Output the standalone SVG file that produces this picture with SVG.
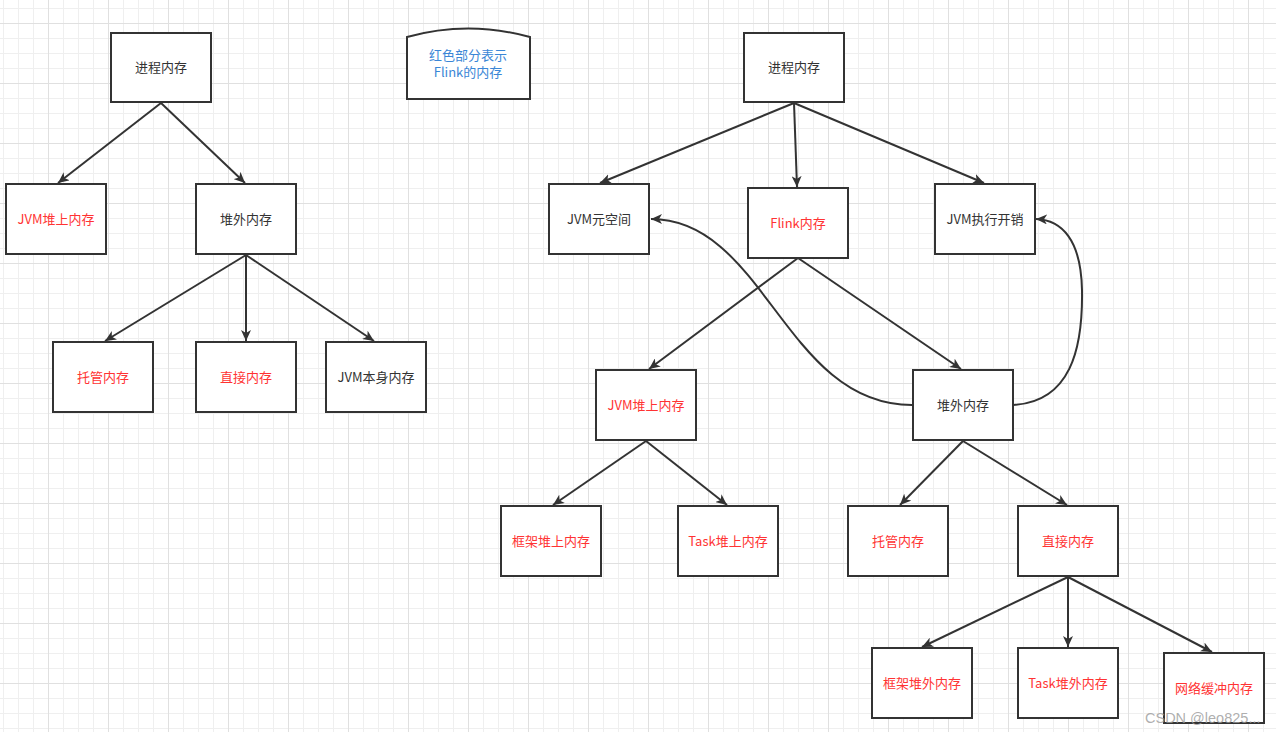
<svg xmlns="http://www.w3.org/2000/svg" width="1276" height="732" viewBox="0 0 1276 732">
<style>
.box{fill:#fff;stroke:#333;stroke-width:2}
.t{font-family:"Noto Sans CJK SC","Liberation Sans",sans-serif;font-size:13px;text-anchor:middle;fill:#333}
.r{fill:#ff3333}
.b{fill:#3a86d6}
.c{fill:none;stroke:#333;stroke-width:2}
</style>
<defs>
<pattern id="grid" patternUnits="userSpaceOnUse" x="48" y="23" width="60" height="60">
<path d="M15.5,0V60M30.5,0V60M45.5,0V60M0,15.5H60M0,30.5H60M0,45.5H60" stroke="#efefef" stroke-width="1" fill="none"/>
<path d="M0.5,0V60M0,0.5H60" stroke="#e0e0e0" stroke-width="1" fill="none"/>
</pattern>
<marker id="a" markerUnits="userSpaceOnUse" markerWidth="12" markerHeight="10" refX="11" refY="5" orient="auto">
<path d="M0,0 L11,5 L0,10 L3,5 z" fill="#333"/>
</marker>
</defs>
<rect width="1276" height="732" fill="#fff"/>
<rect width="1276" height="732" fill="url(#grid)"/>

<g id="connectors">
<path class="c" d="M161,103 L58,183" marker-end="url(#a)"/>
<path class="c" d="M161,103 L245,183" marker-end="url(#a)"/>
<path class="c" d="M246,255 L105,341" marker-end="url(#a)"/>
<path class="c" d="M246,255 L246,341" marker-end="url(#a)"/>
<path class="c" d="M246,255 L374,341" marker-end="url(#a)"/>
<path class="c" d="M794,103 L600,183" marker-end="url(#a)"/>
<path class="c" d="M794,103 L797,187" marker-end="url(#a)"/>
<path class="c" d="M794,103 L984,183" marker-end="url(#a)"/>
<path class="c" d="M798,258 L649,369" marker-end="url(#a)"/>
<path class="c" d="M798,258 L961,369" marker-end="url(#a)"/>
<path class="c" d="M646,441 L553,505" marker-end="url(#a)"/>
<path class="c" d="M646,441 L727,505" marker-end="url(#a)"/>
<path class="c" d="M963,441 L900,505" marker-end="url(#a)"/>
<path class="c" d="M963,441 L1067,505" marker-end="url(#a)"/>
<path class="c" d="M1068,577 L922,647" marker-end="url(#a)"/>
<path class="c" d="M1068,577 L1068,647" marker-end="url(#a)"/>
<path class="c" d="M1068,577 L1212,652" marker-end="url(#a)"/>
<path class="c" d="M912,405 C785,405 765,219 651,219" marker-end="url(#a)"/>
<path class="c" d="M1013,405 C1070,402 1083,350 1082,290 C1081,240 1062,220 1036,219" marker-end="url(#a)"/>
</g>

<g id="note">
<path class="box" d="M407,99 V37 Q468,20 530,37 V99 Z"/>
<text class="t b" x="468" y="60">红色部分表示</text>
<text class="t b" x="468" y="77">Flink的内存</text>
</g>

<g id="l-proc"><rect class="box" x="111" y="33" width="100" height="69"/><text class="t" x="161" y="72">进程内存</text></g>
<g id="l-heap"><rect class="box" x="6" y="184" width="100" height="70"/><text class="t r" x="56" y="224">JVM堆上内存</text></g>
<g id="l-offheap"><rect class="box" x="196" y="184" width="100" height="70"/><text class="t" x="246" y="224">堆外内存</text></g>
<g id="l-managed"><rect class="box" x="53" y="342" width="100" height="70"/><text class="t r" x="103" y="382">托管内存</text></g>
<g id="l-direct"><rect class="box" x="196" y="342" width="100" height="70"/><text class="t r" x="246" y="382">直接内存</text></g>
<g id="l-jvmself"><rect class="box" x="326" y="342" width="100" height="70"/><text class="t" x="376" y="382">JVM本身内存</text></g>

<g id="r-proc"><rect class="box" x="744" y="33" width="100" height="69"/><text class="t" x="794" y="72">进程内存</text></g>
<g id="r-meta"><rect class="box" x="549" y="184" width="100" height="70"/><text class="t" x="599" y="224">JVM元空间</text></g>
<g id="r-flink"><rect class="box" x="748" y="188" width="100" height="70"/><text class="t r" x="798" y="228">Flink内存</text></g>
<g id="r-overhead"><rect class="box" x="935" y="184" width="100" height="70"/><text class="t" x="985" y="224">JVM执行开销</text></g>
<g id="r-heap"><rect class="box" x="596" y="370" width="100" height="70"/><text class="t r" x="646" y="410">JVM堆上内存</text></g>
<g id="r-offheap"><rect class="box" x="913" y="370" width="100" height="70"/><text class="t" x="963" y="410">堆外内存</text></g>
<g id="r-fwheap"><rect class="box" x="501" y="506" width="100" height="70"/><text class="t r" x="551" y="546">框架堆上内存</text></g>
<g id="r-taskheap"><rect class="box" x="678" y="506" width="100" height="70"/><text class="t r" x="728" y="546">Task堆上内存</text></g>
<g id="r-managed"><rect class="box" x="848" y="506" width="100" height="70"/><text class="t r" x="898" y="546">托管内存</text></g>
<g id="r-direct"><rect class="box" x="1018" y="506" width="100" height="70"/><text class="t r" x="1068" y="546">直接内存</text></g>
<g id="r-fwoff"><rect class="box" x="872" y="648" width="100" height="70"/><text class="t r" x="922" y="688">框架堆外内存</text></g>
<g id="r-taskoff"><rect class="box" x="1018" y="648" width="100" height="70"/><text class="t r" x="1068" y="688">Task堆外内存</text></g>
<g id="r-network"><rect class="box" x="1164" y="653" width="100" height="70"/><text class="t r" x="1214" y="693">网络缓冲内存</text></g>

<text x="1145" y="723" font-family="'Liberation Sans',sans-serif" font-size="14.5" fill="#999" fill-opacity="0.8">CSDN @leo825...</text>
</svg>
